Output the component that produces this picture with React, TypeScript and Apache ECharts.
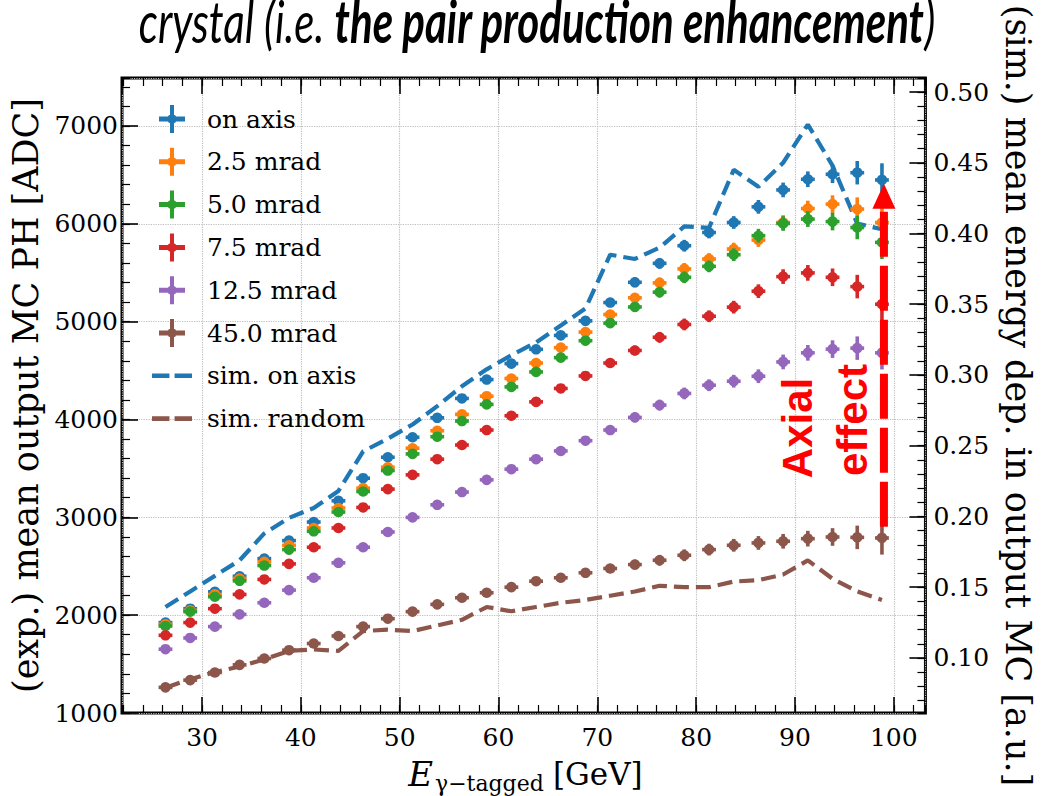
import React, { useEffect, useRef } from 'react';
import * as echarts from 'echarts';

// ---- data ----
const energies = [26.3, 28.8, 31.3, 33.8, 36.3, 38.8, 41.3, 43.8, 46.3, 48.8, 51.3, 53.8, 56.3, 58.8, 61.3, 63.8, 66.3, 68.8, 71.3, 73.8, 76.3, 78.8, 81.3, 83.8, 86.3, 88.8, 91.3, 93.8, 96.3, 98.8];
const onAxis = [1924, 2066, 2239, 2398, 2578, 2762, 2952, 3169, 3400, 3614, 3818, 4017, 4215, 4408, 4571, 4717, 4859, 5008, 5195, 5402, 5596, 5776, 5911, 6013, 6173, 6346, 6455, 6506, 6522, 6448];
const mrad25 = [1906, 2049, 2212, 2375, 2545, 2714, 2891, 3095, 3298, 3512, 3706, 3885, 4052, 4238, 4419, 4577, 4734, 4893, 5073, 5243, 5396, 5539, 5640, 5742, 5834, 6013, 6156, 6201, 6150, 6013];
const mrad50 = [1889, 2036, 2188, 2351, 2507, 2670, 2857, 3054, 3264, 3478, 3648, 3824, 3984, 4154, 4333, 4486, 4632, 4805, 4985, 5150, 5301, 5453, 5565, 5684, 5878, 6003, 6048, 6023, 5962, 5810];
const mrad75 = [1794, 1924, 2066, 2212, 2365, 2524, 2694, 2891, 3101, 3288, 3434, 3594, 3739, 3892, 4038, 4180, 4317, 4445, 4577, 4705, 4840, 4971, 5055, 5148, 5311, 5460, 5498, 5453, 5358, 5178];
const mrad125 = [1652, 1767, 1883, 2008, 2127, 2256, 2382, 2535, 2694, 2850, 2999, 3128, 3258, 3383, 3492, 3594, 3678, 3783, 3892, 4021, 4147, 4266, 4350, 4391, 4442, 4588, 4681, 4719, 4729, 4681];
const mrad450 = [1262, 1336, 1414, 1492, 1557, 1642, 1710, 1787, 1883, 1964, 2036, 2110, 2178, 2229, 2286, 2347, 2382, 2433, 2477, 2517, 2561, 2612, 2670, 2714, 2738, 2755, 2782, 2799, 2795, 2789];
const simOnAxis = [0.136, 0.147, 0.158, 0.169, 0.188, 0.199, 0.206, 0.218, 0.246, 0.255, 0.265, 0.278, 0.292, 0.304, 0.314, 0.323, 0.335, 0.347, 0.385, 0.382, 0.390, 0.405, 0.404, 0.445, 0.433, 0.450, 0.477, 0.448, 0.407, 0.403];
const simRandom = [0.079, 0.085, 0.090, 0.094, 0.099, 0.105, 0.106, 0.105, 0.119, 0.120, 0.119, 0.123, 0.127, 0.136, 0.133, 0.136, 0.139, 0.141, 0.144, 0.147, 0.151, 0.150, 0.150, 0.154, 0.155, 0.159, 0.169, 0.156, 0.147, 0.141];
const errY = [40, 40, 40, 40, 40, 40, 40, 40, 40, 40, 45, 45, 45, 45, 45, 45, 45, 45, 45, 50, 55, 60, 60, 65, 70, 75, 80, 90, 120, 170];
const X_ERR = 0.7;

const expNames = ['on axis', '2.5 mrad', '5.0 mrad', '7.5 mrad', '12.5 mrad', '45.0 mrad'];
const expValues = [onAxis, mrad25, mrad50, mrad75, mrad125, mrad450];
const expColors = ['#1f77b4', '#ff7f0e', '#2ca02c', '#d62728', '#9467bd', '#8c564b'];
const simNames = ['sim. on axis', 'sim. random'];
const simValues = [simOnAxis, simRandom];
const simColors = ['#1f77b4', '#8c564b'];

const titleText = 'crystal (i.e. ';
const titleBold = 'the pair production enhancement';
const leftTitle = '(exp.) mean output MC PH [ADC]';
const rightTitle = '(sim.) mean energy dep. in output MC [a.u.]';

const X_MIN = 21.9, X_MAX = 103.2;
const Y_MIN = 1000, Y_MAX = 7490;
const R_MIN = 0.0611, R_MAX = 0.5099;

const SERIF = 'DejaVu Serif';
const CROSS = 'path://M0,11.5H11V0H15V11.5H26V16.5H15V28H11V16.5H0Z M18,14L16.5,17.5L13,19L9.5,17.5L8,14L9.5,10.5L13,9L16.5,10.5Z';
const DASH = 'path://M0,0H17V4.5H0Z M22,0H39V4.5H22Z';

function isMult(v: number, step: number) {
  const r = v / step;
  return Math.abs(r - Math.round(r)) < 1e-6;
}

export default function App() {
  const ref = useRef<HTMLDivElement>(null);
  useEffect(() => {
    if (!ref.current) return;
    const chart = echarts.init(ref.current, undefined, { renderer: 'svg' });

    const tickMajor = { show: true, inside: true, length: 16, lineStyle: { color: '#000', width: 1.6 } };
    const tickMinor = { show: true, inside: true, length: 8, lineStyle: { color: '#000', width: 1.2 } };
    const labelStyle = { fontSize: 25, fontFamily: SERIF, color: '#000' };
    const dotted = { show: true, lineStyle: { type: 'dotted', color: '#bdbdbd', width: 1.2 } };

    const xCommon = { type: 'value', min: X_MIN, max: X_MAX, axisLine: { show: false }, splitLine: { show: false } };

    const series: any[] = [];
    simNames.forEach((n, k) => {
      series.push({
        name: n,
        type: 'line',
        xAxisIndex: 0,
        yAxisIndex: 1,
        data: energies.map((e, i) => [e, simValues[k][i]]),
        symbol: 'none',
        z: 2,
        itemStyle: { color: simColors[k] },
        lineStyle: { color: simColors[k], width: 4.2, type: [15, 7] },
      });
    });
    expNames.forEach((n, k) => {
      series.push({
        name: n,
        type: 'custom',
        xAxisIndex: 0,
        yAxisIndex: 0,
        z: 3,
        itemStyle: { color: expColors[k] },
        data: energies.map((e, i) => [e, expValues[k][i], errY[i]]),
        renderItem: (params: any, api: any) => {
          const x = api.value(0);
          const y = api.value(1);
          const e = api.value(2);
          const c = api.coord([x, y]);
          const t = api.coord([x, y + e]);
          const b = api.coord([x, y - e]);
          const l = api.coord([x - X_ERR, y]);
          const r = api.coord([x + X_ERR, y]);
          const color = expColors[k];
          return {
            type: 'group',
            children: [
              { type: 'line', shape: { x1: c[0], y1: t[1], x2: c[0], y2: b[1] }, style: { stroke: color, lineWidth: 3.6 } },
              { type: 'line', shape: { x1: l[0], y1: c[1], x2: r[0], y2: c[1] }, style: { stroke: color, lineWidth: 3.6 } },
              { type: 'circle', shape: { cx: c[0], cy: c[1], r: 5.3 }, style: { fill: color } },
            ],
          };
        },
      });
    });

    const legendData = [
      ...expNames.map((n) => ({ name: n, icon: CROSS })),
      ...simNames.map((n) => ({ name: n, icon: DASH })),
    ];

    chart.setOption({
      animation: false,
      textStyle: { fontFamily: SERIF },
      grid: { left: 122, right: 105, top: 78, bottom: 83, show: true, borderColor: '#000', borderWidth: 3, backgroundColor: 'transparent' },
      legend: {
        orient: 'vertical',
        left: 147,
        top: 100,
        itemWidth: 40,
        itemHeight: 28,
        itemGap: 14.8,
        data: legendData,
        textStyle: { fontSize: 25, fontFamily: SERIF, color: '#000', lineHeight: 28, padding: [0, 0, 0, 10] },
      },
      xAxis: [
        {
          ...xCommon,
          position: 'bottom',
          minInterval: 10,
          maxInterval: 10,
          axisTick: tickMajor,
          splitLine: dotted,
          axisLabel: { ...labelStyle, margin: 12, showMinLabel: false, showMaxLabel: false, formatter: (v: number) => (isMult(v, 10) ? String(Math.round(v)) : '') },
        },
        { ...xCommon, position: 'bottom', minInterval: 2, maxInterval: 2, axisTick: tickMinor, axisLabel: { show: false } },
        { ...xCommon, position: 'top', minInterval: 10, maxInterval: 10, axisTick: tickMajor, axisLabel: { show: false } },
        { ...xCommon, position: 'top', minInterval: 2, maxInterval: 2, axisTick: tickMinor, axisLabel: { show: false } },
      ],
      yAxis: [
        {
          type: 'value',
          position: 'left',
          min: Y_MIN,
          max: Y_MAX,
          interval: 1000,
          axisLine: { show: false },
          axisTick: tickMajor,
          splitLine: dotted,
          axisLabel: { ...labelStyle, margin: 4, showMaxLabel: false, formatter: (v: number) => (isMult(v, 1000) ? String(Math.round(v)) : '') },
          name: leftTitle,
          nameLocation: 'middle',
          nameRotate: 90,
          nameGap: 59,
          nameTextStyle: { fontSize: 35, fontFamily: SERIF, color: '#000' },
        },
        {
          type: 'value',
          position: 'right',
          min: R_MIN,
          max: R_MAX,
          minInterval: 0.05,
          maxInterval: 0.05,
          axisLine: { show: false },
          axisTick: tickMajor,
          splitLine: { show: false },
          axisLabel: { ...labelStyle, margin: 8, showMinLabel: false, showMaxLabel: false, formatter: (v: number) => (isMult(v, 0.05) ? v.toFixed(2) : '') },
          name: rightTitle,
          nameLocation: 'middle',
          nameRotate: -90,
          nameGap: 64,
          nameTextStyle: { fontSize: 35, fontFamily: SERIF, color: '#000' },
        },
        { type: 'value', position: 'left', min: Y_MIN, max: Y_MAX, interval: 200, axisLine: { show: false }, axisTick: tickMinor, axisLabel: { show: false }, splitLine: { show: false } },
        { type: 'value', position: 'right', min: R_MIN, max: R_MAX, minInterval: 0.01, maxInterval: 0.01, axisLine: { show: false }, axisTick: tickMinor, axisLabel: { show: false }, splitLine: { show: false } },
      ],
      series,
    });

    // annotation arrow, anchored to the data of the last energy bin
    const last = energies.length - 1;
    const pBot = chart.convertToPixel({ xAxisIndex: 0, yAxisIndex: 0 }, [energies[last] + 0.2, mrad450[last] + 115]) as number[];
    const pTip = chart.convertToPixel({ xAxisIndex: 0, yAxisIndex: 0 }, [energies[last] + 0.2, onAxis[last] - 40]) as number[];
    const ax = pBot[0];
    const headLen = 25;
    const headHalf = 11.5;

    chart.setOption({
      graphic: [
        {
          type: 'line',
          z: 10,
          shape: { x1: ax, y1: pBot[1], x2: ax, y2: pTip[1] + headLen - 2 },
          style: { stroke: '#ff0000', lineWidth: 8, lineDash: [45, 9] },
        },
        {
          type: 'polygon',
          z: 10,
          shape: { points: [[ax, pTip[1]], [ax - headHalf, pTip[1] + headLen], [ax + headHalf, pTip[1] + headLen]] },
          style: { fill: '#ff0000' },
        },
        {
          type: 'text',
          z: 10,
          x: 797,
          y: 428,
          rotation: Math.PI / 2,
          style: { text: 'Axial', fill: '#ff0000', font: 'bold 42px "Liberation Sans"', textAlign: 'center', textVerticalAlign: 'middle' },
        },
        {
          type: 'text',
          z: 10,
          x: 852,
          y: 420,
          rotation: Math.PI / 2,
          style: { text: 'effect', fill: '#ff0000', font: 'bold 42px "Liberation Sans"', textAlign: 'center', textVerticalAlign: 'middle' },
        },
        {
          type: 'text',
          z: 10,
          x: 537,
          y: 50,
          scaleY: 1.4,
          style: {
            text: '{i|' + titleText + '}{b|' + titleBold + '}{i|)}',
            textAlign: 'center',
            textVerticalAlign: 'bottom',
            rich: {
              i: { fontSize: 42, fontStyle: 'italic', fontFamily: 'Lato', fill: '#000' },
              b: { fontSize: 42, fontStyle: 'italic', fontWeight: 'bold', fontFamily: 'Lato', fill: '#000' },
            },
          },
        },
        {
          type: 'text',
          z: 10,
          x: 433,
          y: 774,
          style: { text: 'E', fill: '#000', font: 'italic 34px "DejaVu Serif"', textAlign: 'right', textVerticalAlign: 'middle' },
        },
        {
          type: 'text',
          z: 10,
          x: 435,
          y: 783,
          style: { text: 'γ−tagged', fill: '#000', font: '22px "DejaVu Serif"', textAlign: 'left', textVerticalAlign: 'middle' },
        },
        {
          type: 'text',
          z: 10,
          x: 553,
          y: 774,
          style: { text: '[GeV]', fill: '#000', font: '31px "DejaVu Serif"', textAlign: 'left', textVerticalAlign: 'middle' },
        },
      ],
    });

    return () => chart.dispose();
  }, []);

  return (
    <div style={{ position: 'fixed', left: 0, top: 0, width: 1043, height: 796, background: '#fff' }}>
      <div ref={ref} style={{ width: 1043, height: 796 }} />
    </div>
  );
}
